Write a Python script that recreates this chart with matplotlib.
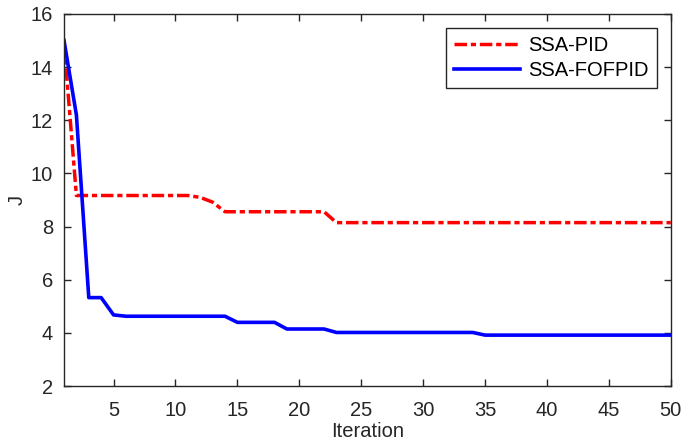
import numpy as np
import matplotlib.pyplot as plt

plt.rcParams['font.family'] = ['Liberation Sans', 'DejaVu Sans']

iteration = np.arange(1, 51)

# best cost per iteration
j_pid = [14.9, 9.17, 9.17, 9.17, 9.17, 9.17, 9.17, 9.17, 9.17, 9.17,
         9.17, 9.1, 8.92, 8.56, 8.56, 8.56, 8.56, 8.56, 8.56, 8.56,
         8.56, 8.56, 8.15] + [8.15] * 27
j_fofpid = [15.0, 12.2, 5.33, 5.33, 4.68, 4.63, 4.63, 4.63, 4.63, 4.63,
            4.63, 4.63, 4.63, 4.63, 4.40, 4.40, 4.40, 4.40, 4.15, 4.15,
            4.15, 4.15, 4.02, 4.02, 4.02, 4.02, 4.02, 4.02, 4.02, 4.02,
            4.02, 4.02, 4.02, 4.02] + [3.92] * 16

fs = 14.5

fig = plt.figure(figsize=(6.81, 4.48), dpi=100)
ax = fig.add_axes([0.094, 0.138, 0.891, 0.831])

ax.plot(iteration, j_pid, color='red', lw=2.5, dashes=(3.6, 1.1, 1.5, 1.1),
        label='SSA-PID')
ax.plot(iteration, j_fofpid, color='blue', lw=2.6, label='SSA-FOFPID')

ax.set_xlim(1, 50)
ax.set_ylim(2, 16)
ax.set_xticks(np.arange(5, 51, 5))
ax.set_yticks(np.arange(2, 17, 2))
ax.tick_params(direction='in', length=5, width=1, labelsize=fs,
               colors='#262626', top=True, right=True)
ax.tick_params(axis='x', pad=11)
ax.tick_params(axis='y', pad=8)
for s in ax.spines.values():
    s.set_color('#262626')
    s.set_linewidth(1)
ax.set_xlabel('Iteration', fontsize=fs, color='#262626', labelpad=1)
ax.set_ylabel('J', fontsize=fs, color='#262626', labelpad=3)

leg = ax.legend(loc='upper right', fontsize=fs, fancybox=False,
                edgecolor='#262626', framealpha=1, handlelength=3.3,
                borderaxespad=0.7, borderpad=0.4, labelspacing=0.3,
                handletextpad=0.4)
leg.get_frame().set_linewidth(1)

fig.savefig('out.png', dpi=100)
